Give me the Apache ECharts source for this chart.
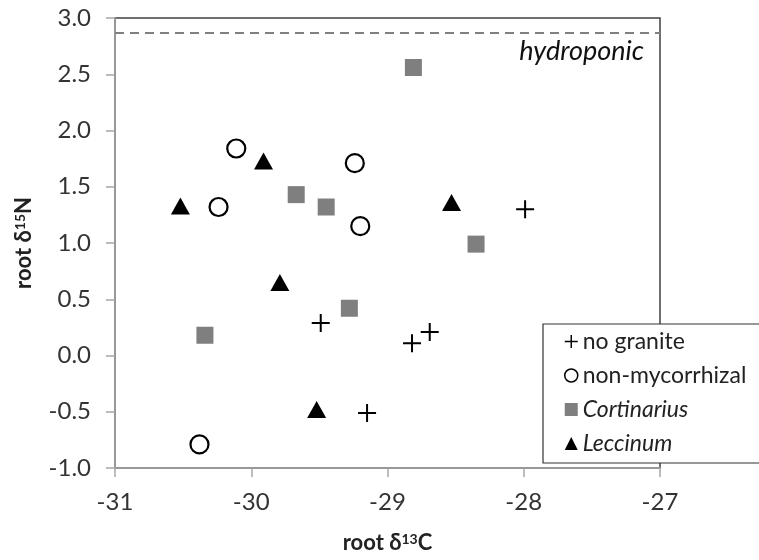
<!DOCTYPE html>
<html>
<head>
<meta charset="utf-8">
<script src="https://cdn.jsdelivr.net/npm/echarts@6/dist/echarts.min.js"></script>
<style>html,body{margin:0;padding:0;background:#fff}#c{width:759px;height:560px}</style>
</head>
<body>
<div id="c"></div>
<script>
const xTicks = [-31, -30, -29, -28, -27];
const yTicks = [-1.0, -0.5, 0.0, 0.5, 1.0, 1.5, 2.0, 2.5, 3.0];
const hydroponicN = 2.867;
const noGranite = [[-27.99, 1.30], [-29.49, 0.29], [-29.15, -0.51], [-28.82, 0.11], [-28.69, 0.21]];
const nonMycorrhizal = [[-30.11, 1.84], [-30.24, 1.32], [-29.24, 1.71], [-29.20, 1.15], [-30.38, -0.79]];
const cortinarius = [[-29.67, 1.43], [-29.45, 1.32], [-28.81, 2.56], [-28.35, 0.99], [-30.34, 0.18], [-29.28, 0.42]];
const leccinum = [[-30.52, 1.33], [-29.91, 1.73], [-28.53, 1.36], [-29.79, 0.65], [-29.52, -0.48]];

const FONT = 'Lato';
const plusPath = 'path://M8,0H10V8H18V10H10V18H8V10H0V8H8Z';

const chart = echarts.init(document.getElementById('c'), null, {renderer: 'canvas'});
const option = {
  animation: false,
  textStyle: {fontFamily: FONT},
  grid: {left: 115, top: 18, right: 99, bottom: 92, show: true, borderColor: '#404040', borderWidth: 1.5, backgroundColor: 'transparent'},
  xAxis: {
    type: 'value', min: xTicks[0], max: xTicks[xTicks.length - 1], interval: 1,
    axisLine: {show: true, onZero: false, lineStyle: {color: '#a6a6a6', width: 1.5}},
    axisTick: {show: true, length: 9, lineStyle: {color: '#a6a6a6', width: 1.5}},
    splitLine: {show: false},
    axisLabel: {fontFamily: FONT, fontSize: 24, color: '#333', margin: 22},
    name: 'root δ{sup|13}C', nameLocation: 'middle', nameGap: 64,
    nameTextStyle: {fontFamily: FONT, fontSize: 22, fontWeight: 'bold', color: '#222',
      rich: {sup: {fontSize: 14, fontWeight: 'bold', fontFamily: FONT, color: '#222', padding: [0, 0, 7, 0]}}}
  },
  yAxis: {
    type: 'value', min: yTicks[0], max: yTicks[yTicks.length - 1], interval: 0.5,
    axisLine: {show: true, onZero: false, lineStyle: {color: '#a6a6a6', width: 1.5}},
    axisTick: {show: true, length: 9, lineStyle: {color: '#a6a6a6', width: 1.5}},
    splitLine: {show: false},
    axisLabel: {fontFamily: FONT, fontSize: 24, color: '#333', margin: 24, formatter: v => v.toFixed(1)},
    name: 'root δ{sup|15}N', nameLocation: 'middle', nameGap: 80, nameRotate: 90,
    nameTextStyle: {fontFamily: FONT, fontSize: 22, fontWeight: 'bold', color: '#222',
      rich: {sup: {fontSize: 14, fontWeight: 'bold', fontFamily: FONT, color: '#222', padding: [0, 0, 7, 0]}}}
  },
  legend: {
    orient: 'vertical', left: 543, top: 324,
    padding: [6, 60, 8, 21], itemGap: 11, itemWidth: 13, itemHeight: 13,
    backgroundColor: '#fff', borderColor: '#333', borderWidth: 1.2,
    textStyle: {fontFamily: FONT, fontSize: 23, color: '#222', rich: {i: {fontStyle: 'italic', fontFamily: FONT, fontSize: 23, color: '#222'}}},
    formatter: n => (n === 'Cortinarius' || n === 'Leccinum') ? '{i|' + n + '}' : n,
    data: [
      {name: 'no granite', icon: plusPath, itemStyle: {color: '#000', borderWidth: 0}},
      {name: 'non-mycorrhizal', icon: 'circle', itemStyle: {color: '#fff', borderColor: '#000', borderWidth: 1.5}},
      {name: 'Cortinarius', icon: 'rect', itemStyle: {color: '#7f7f7f', borderWidth: 0}},
      {name: 'Leccinum', icon: 'triangle', itemStyle: {color: '#000', borderWidth: 0}}
    ]
  },
  series: [
    {
      name: 'no granite', type: 'scatter', data: noGranite, symbol: plusPath, symbolSize: 18,
      itemStyle: {color: '#000', opacity: 1},
      markLine: {
        silent: true, symbol: 'none',
        lineStyle: {color: '#808080', type: [9, 6], width: 2},
        label: {show: true, position: 'insideEndBottom', formatter: 'hydroponic', fontFamily: FONT, fontStyle: 'italic', fontSize: 27, color: '#111', distance: [16, 5]},
        data: [{yAxis: hydroponicN}]
      }
    },
    {
      name: 'non-mycorrhizal', type: 'scatter', data: nonMycorrhizal, symbol: 'circle', symbolSize: 18,
      itemStyle: {color: '#fff', borderColor: '#000', borderWidth: 2.2, opacity: 1}
    },
    {
      name: 'Cortinarius', type: 'scatter', data: cortinarius, symbol: 'rect', symbolSize: 17,
      itemStyle: {color: '#7f7f7f', opacity: 1}
    },
    {
      name: 'Leccinum', type: 'scatter', data: leccinum, symbol: 'triangle', symbolSize: [19, 17],
      itemStyle: {color: '#000', opacity: 1}
    }
  ]
};
chart.setOption(option);
</script>
</body>
</html>
